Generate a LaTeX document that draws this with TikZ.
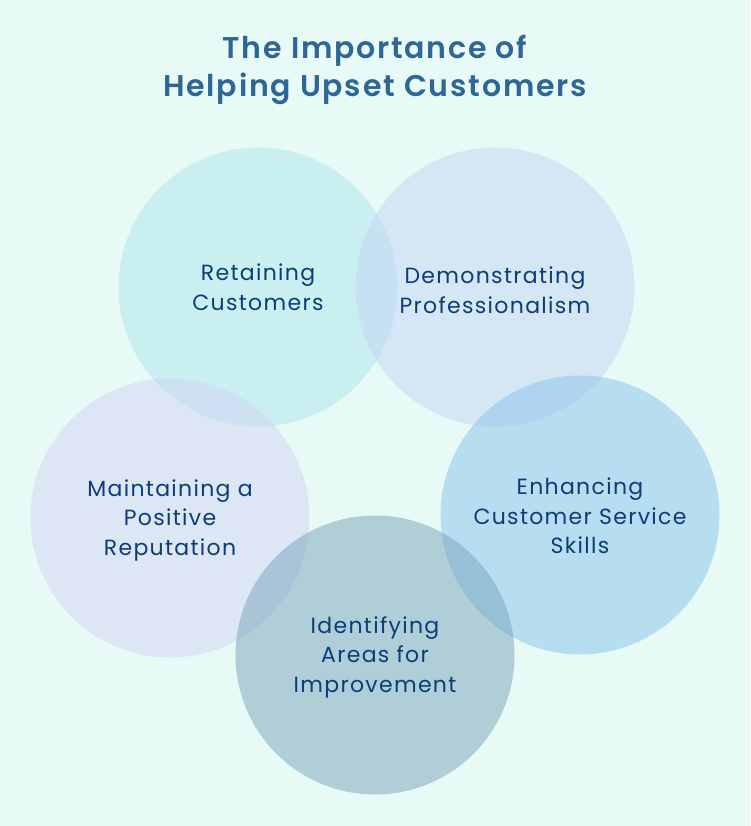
\documentclass[tikz,border=0pt]{standalone}
\usepackage{fontspec}
\setmainfont{Poppins}[LetterSpace=6,BoldFont={Poppins SemiBold}]
\definecolor{bg}{RGB}{232,250,246}
\definecolor{titlec}{RGB}{46,102,150}
\definecolor{txtc}{RGB}{11,62,120}
\definecolor{cA}{RGB}{174,230,238}
\definecolor{cB}{RGB}{196,214,244}
\definecolor{cC}{RGB}{136,194,238}
\definecolor{cD}{RGB}{120,164,188}
\definecolor{cE}{RGB}{210,212,244}
\tikzset{
  bubble/.style={circle,minimum size=279pt,inner sep=0pt,fill opacity=0.5,text opacity=1,draw=none},
  lbl/.style={text=txtc,align=center,font=\fontsize{22}{29.5}\selectfont},
  ttl/.style={text=titlec,align=center,font=\fontsize{30}{38}\selectfont\bfseries}
}
\begin{document}
\begin{tikzpicture}[x=1pt,y=1pt]
\fill[bg] (0,0) rectangle (750,-826);
\useasboundingbox (0,0) rectangle (750,-826);
\node[ttl] (title) at (375,-70) {The Importance of\\Helping Upset Customers};
\node[bubble,fill=cA] (c1) at (258,-287) {};
\node[bubble,fill=cB] (c2) at (495,-287) {};
\node[bubble,fill=cE] (c5) at (170,-518) {};
\node[bubble,fill=cC] (c3) at (580,-515) {};
\node[bubble,fill=cD] (c4) at (375,-655) {};
\node[lbl] (t1) at (258,-287) {Retaining\\Customers};
\node[lbl] (t2) at (495,-290) {Demonstrating\\Professionalism};
\node[lbl] (t3) at (580,-516) {Enhancing\\Customer Service\\Skills};
\node[lbl] (t4) at (375,-657) {Identifying\\Areas for\\Improvement};
\node[lbl] (t5) at (170,-520) {Maintaining a\\Positive\\Reputation};
\end{tikzpicture}
\end{document}
